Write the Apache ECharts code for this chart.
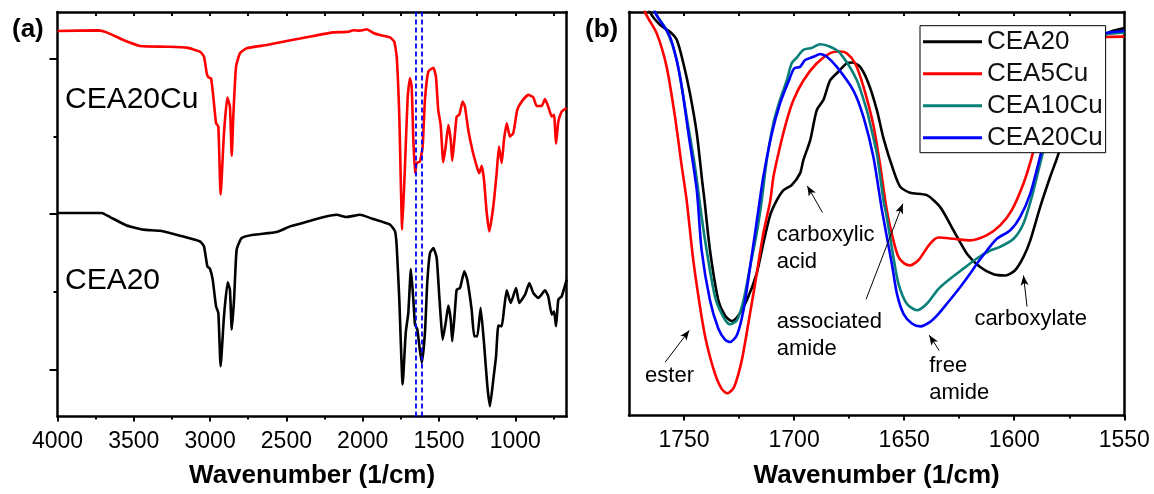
<!DOCTYPE html>
<html>
<head>
<meta charset="utf-8">
<script src="https://cdn.jsdelivr.net/npm/echarts@6/dist/echarts.min.js"></script>
<style>
html,body{margin:0;padding:0;background:#fff;}
#chart{width:1154px;height:494px;}
</style>
</head>
<body>
<div id="chart"></div>
<script>
// ---------- Panel (a): full FTIR spectra (wavenumber, offset transmittance) ----------
const aWnCEA20Cu = [4000,3733,3678,3569,3459,3284,3153,3066,3040,3022,3012,2994,2979,2961,2946,2931,2909,2887,2870,2858,2848,2830,2804,2760,2629,2498,2411,2324,2193,2100,2060,2018,1974,1930,1887,1821,1793,1777,1760,1741,1723,1705,1690,1679,1668,1657,1646,1625,1607,1592,1570,1537,1520,1505,1489,1472,1456,1439,1423,1413,1395,1384,1367,1345,1330,1308,1279,1249,1236,1220,1205,1187,1170,1144,1122,1107,1089,1074,1056,1035,1013,987,958,915,882,860,827,805,784,761,746,733,718,696,663];
const aTCEA20Cu = [2.178,2.182,2.169,2.120,2.082,2.077,2.071,2.045,2.013,1.906,1.881,1.874,1.756,1.585,1.564,1.125,1.521,1.750,1.692,1.377,1.628,1.949,2.035,2.067,2.088,2.114,2.130,2.146,2.169,2.172,2.183,2.180,2.189,2.165,2.152,2.137,2.109,2.013,1.628,0.901,1.307,1.756,1.874,1.820,1.478,1.264,1.329,1.339,1.435,1.735,1.917,1.942,1.884,1.671,1.574,1.335,1.435,1.574,1.478,1.343,1.521,1.628,1.639,1.724,1.692,1.542,1.403,1.297,1.264,1.311,1.221,1.008,0.890,1.050,1.264,1.435,1.329,1.478,1.585,1.499,1.521,1.671,1.724,1.767,1.752,1.696,1.696,1.741,1.692,1.628,1.639,1.453,1.596,1.660,1.682];
const aWnCEA20 = [4000,3710,3656,3547,3438,3328,3197,3066,3040,3018,3001,2983,2961,2946,2931,2909,2885,2870,2858,2843,2826,2793,2717,2564,2476,2411,2280,2170,2105,2018,1931,1821,1788,1777,1760,1738,1718,1701,1684,1668,1657,1642,1613,1592,1577,1559,1537,1515,1498,1489,1476,1456,1439,1423,1413,1395,1384,1362,1334,1315,1286,1269,1249,1227,1205,1183,1166,1144,1126,1111,1089,1074,1056,1030,995,974,936,908,882,849,805,784,761,746,733,718,696,663];
const aTCEA20 = [1.008,1.008,0.982,0.928,0.901,0.894,0.862,0.825,0.793,0.665,0.650,0.580,0.408,0.366,0.023,0.344,0.562,0.515,0.259,0.451,0.772,0.847,0.868,0.886,0.922,0.939,0.976,0.997,0.982,0.997,0.969,0.933,0.890,0.793,0.451,-0.094,0.237,0.366,0.648,0.451,0.291,0.259,0.045,0.237,0.558,0.751,0.783,0.719,0.472,0.344,0.194,0.302,0.413,0.323,0.184,0.387,0.515,0.526,0.633,0.580,0.387,0.216,0.216,0.398,0.173,-0.105,-0.234,-0.062,0.087,0.284,0.280,0.387,0.511,0.430,0.526,0.430,0.483,0.558,0.494,0.462,0.511,0.472,0.355,0.376,0.280,0.451,0.472,0.580];
const aDashedWn = [1655, 1612];
const aLabels = ['CEA20Cu', 'CEA20'];
const aMajorTicks = [1000,1500,2000,2500,3000,3500,4000];
const aMinorTicks = [750,1250,1750,2250,2750,3250,3750];
const aTopTicks = [750,1000,1250,1500,1750,2000,2250,2500,2750,3000,3250,3500,3750];
const aYMajor = [0,1,2];
const aYMinor = [0.5,1.5];

// ---------- Panel (b): 1775-1550 cm-1 zoom ----------
const bNames = ['CEA20','CEA5Cu','CEA10Cu','CEA20Cu'];
const bWnCEA20 = [1775,1765.5,1760.9,1756.4,1753.3,1750.3,1747.3,1744.2,1741.8,1740.7,1738.2,1734.4,1731.4,1728.3,1725.3,1721.5,1717.0,1714.0,1710.9,1707.9,1704.9,1701.1,1697.3,1695.8,1692.7,1689.7,1686.7,1683.6,1679.9,1676.1,1673.6,1670.0,1666.2,1662.4,1659.4,1654.9,1651.8,1647.3,1639.7,1633.7,1627.6,1621.5,1615.5,1609.4,1604.1,1599.6,1595.8,1592.7,1588.2,1583.7,1579.9,1572.3,1565.5,1557.9,1550];
const bTCEA20 = [112,100,96.8,95.1,93.1,87.3,79.8,69.9,58.3,53.3,40.9,28.5,24.8,23.4,24.8,28.5,35.2,42.6,49.6,53.3,55.8,57.1,60.0,63.3,68.2,75.7,78.2,83.1,85.2,87.3,87.5,86.4,82.3,75.7,68.7,60.8,56.7,55.2,54.6,51.7,45.9,40.1,36.8,35.0,34.7,36.0,39.3,43.4,51.7,59.1,64.9,80.6,90.6,94.7,96.0];
const bWnCEA5Cu = [1775,1767.7,1762.4,1757.9,1754.1,1751.0,1748.8,1745.8,1742.0,1739.7,1735.9,1732.9,1730.3,1727.3,1723.8,1720.8,1717.7,1714.0,1710.9,1709.4,1706.4,1703.3,1700.3,1695.7,1689.7,1683.6,1679.1,1676.1,1672.3,1668.5,1664.0,1660.9,1657.9,1654.9,1652.6,1650.0,1647.3,1643.5,1638.2,1634.4,1627.6,1620.0,1612.4,1606.4,1601.1,1595.8,1592.0,1585.9,1576.8,1565.5,1557.9,1550];
const bTCEA5Cu = [115,100,94.7,86.4,74.0,61.6,53.3,38.5,24.4,17.8,10.3,6.6,5.5,7.0,13.6,22.8,32.7,45.1,53.0,59.1,66.6,73.2,78.2,83.1,87.3,89.8,90.2,89.8,87.3,81.5,72.0,62.0,50.9,43.4,39.3,37.7,37.2,38.5,42.6,44.1,43.8,43.4,44.7,47.1,50.9,57.5,64.1,76.9,88.1,92.6,93.8,93.9];
const bWnCEA10Cu = [1775,1763.2,1757.9,1753.3,1748.8,1745.0,1742.0,1739.7,1735.9,1732.1,1729.1,1726.0,1723.0,1720.0,1717.0,1714.7,1712.4,1709.4,1706.4,1703.3,1701.1,1698.8,1695.8,1692.0,1688.2,1683.6,1679.1,1671.5,1667.0,1665.5,1662.4,1659.4,1657.9,1654.9,1652.6,1648.8,1644.2,1639.7,1634.4,1629.1,1623.1,1617.0,1610.9,1606.4,1600.3,1595.8,1592.0,1588.2,1583.7,1576.8,1565.5,1557.9,1550];
const bTCEA10Cu = [120,100,95.5,88.1,74.0,61.6,49.2,40.9,29.4,24.4,22.6,23.6,28.5,36.8,45.1,53.3,63.3,72.5,78.2,83.1,87.3,88.7,90.6,91.1,92.0,91.4,89.8,83.1,75.7,72.4,64.9,53.3,49.2,39.3,32.7,27.7,26.1,27.7,31.4,33.9,36.4,38.9,40.9,41.8,43.8,47.6,54.2,62.5,72.0,84.4,92.6,94.5,94.9];
const bWnCEA20Cu = [1775,1763.2,1756.4,1751.8,1748.0,1744.2,1742.0,1738.2,1734.4,1731.4,1729.1,1726.0,1723.0,1720.0,1717.0,1714.0,1710.1,1706.4,1702.6,1700.0,1697.3,1695.0,1691.2,1688.2,1685.1,1680.6,1673.1,1668.5,1664.0,1660.1,1655.6,1653.3,1650.3,1646.5,1642.7,1638.2,1634.4,1630.6,1624.6,1620.0,1617.0,1612.4,1607.9,1601.8,1597.3,1592.7,1589.0,1584.6,1578.2,1565.5,1557.9,1550];
const bTCEA20Cu = [120,100,93.9,83.9,69.9,55.8,40.9,28.5,21.5,18.8,18.2,19.9,26.1,36.8,48.0,59.1,69.9,77.3,82.7,86.0,86.4,88.1,88.9,89.6,88.9,86.4,80.6,74.0,64.1,50.9,37.6,30.2,25.2,22.8,22.1,23.2,25.2,27.7,31.8,35.2,37.6,40.9,43.8,45.9,49.2,55.0,62.5,72.0,83.1,93.1,94.8,95.3];
const bMajorTicks = [1550,1600,1650,1700,1750];
const bMinorTicks = [1575,1625,1675,1725];
const bTopTicks = [1575,1600,1625,1650,1675,1700,1725,1750];
// annotations: text, anchor [wn, value]
const bAnnoText = ['carboxylic\nacid','associated\namide','ester','free\namide','carboxylate'];
const bAnnoPos = [[1707.9,41.4],[1707.9,19.9],[1767.7,9.9],[1638.6,8.9],[1618.1,24.0]];
// arrows: tail -> head [wn, value]
const bArrowTail = [[1758.6,13.2],[1687.1,50.3],[1667.3,28.8],[1634.1,16.1],[1594.2,27.0]];
const bArrowHead = [[1747.6,21.1],[1694.0,56.9],[1650.6,52.5],[1638.6,19.9],[1595.8,34.7]];

const FONT = "'Liberation Sans', Arial, sans-serif";
const zip = (xs, ys) => xs.map((x, i) => [x, ys[i]]);

const chart = echarts.init(document.getElementById('chart'), null, {renderer: 'canvas'});

const axisLineStyle = {color: '#000', width: 2.5};
const tickStyle = {color: '#000', width: 2};

function xAxesFor(gi, min, max, major, minor, top, gap) {
  return [
    {gridIndex: gi, type: 'value', min: min, max: max, inverse: true, position: 'bottom',
     axisLine: {show: true, onZero: false, lineStyle: axisLineStyle},
     axisTick: {show: true, inside: false, length: 5, lineStyle: tickStyle, customValues: major},
     axisLabel: {show: true, customValues: major, formatter: v => String(v), fontSize: 23, fontFamily: FONT, color: '#000', margin: 14, showMinLabel: true, showMaxLabel: true},
     splitLine: {show: false},
     name: 'Wavenumber (1/cm)', nameLocation: 'middle', nameGap: gap,
     nameTextStyle: {fontSize: 26, fontWeight: 'bold', fontFamily: FONT, color: '#000'}},
    {gridIndex: gi, type: 'value', min: min, max: max, inverse: true, position: 'bottom',
     axisLine: {show: false, onZero: false},
     axisTick: {show: true, inside: false, length: 3, lineStyle: tickStyle, customValues: minor},
     axisLabel: {show: false}, splitLine: {show: false}},
    {gridIndex: gi, type: 'value', min: min, max: max, inverse: true, position: 'top',
     axisLine: {show: true, onZero: false, lineStyle: axisLineStyle},
     axisTick: {show: true, inside: true, length: 4, lineStyle: tickStyle, customValues: top},
     axisLabel: {show: false}, splitLine: {show: false}}
  ];
}

const option = {
  animation: false,
  backgroundColor: '#fff',
  grid: [
    {left: 57.5, top: 12, width: 509.2, height: 404.5},
    {left: 629, top: 12, width: 495.3, height: 403.5}
  ],
  xAxis: [].concat(
    xAxesFor(0, 663, 4000, aMajorTicks, aMinorTicks, aTopTicks, 46),
    xAxesFor(1, 1550, 1775, bMajorTicks, bMinorTicks, bTopTicks, 47)
  ),
  yAxis: [
    {gridIndex: 0, type: 'value', min: -0.3, max: 2.3, position: 'left',
     axisLine: {show: true, onZero: false, lineStyle: axisLineStyle},
     axisTick: {show: true, inside: false, length: 8, lineStyle: tickStyle, customValues: aYMajor},
     axisLabel: {show: false}, splitLine: {show: false}},
    {gridIndex: 0, type: 'value', min: -0.3, max: 2.3, position: 'left',
     axisLine: {show: false, onZero: false},
     axisTick: {show: true, inside: false, length: 4, lineStyle: tickStyle, customValues: aYMinor},
     axisLabel: {show: false}, splitLine: {show: false}},
    {gridIndex: 0, type: 'value', min: -0.3, max: 2.3, position: 'right',
     axisLine: {show: true, onZero: false, lineStyle: axisLineStyle},
     axisTick: {show: false}, axisLabel: {show: false}, splitLine: {show: false}},
    {gridIndex: 1, type: 'value', min: 0, max: 100, position: 'left',
     axisLine: {show: true, onZero: false, lineStyle: axisLineStyle},
     axisTick: {show: false}, axisLabel: {show: false}, splitLine: {show: false}},
    {gridIndex: 1, type: 'value', min: 0, max: 100, position: 'right',
     axisLine: {show: true, onZero: false, lineStyle: axisLineStyle},
     axisTick: {show: false}, axisLabel: {show: false}, splitLine: {show: false}}
  ],
  legend: {
    data: bNames,
    orient: 'vertical',
    left: 920, top: 25.7,
    padding: [3, 3, 2, 3],
    itemGap: 6,
    itemWidth: 59, itemHeight: 3,
    icon: 'rect',
    backgroundColor: '#fff',
    borderColor: '#000', borderWidth: 1,
    textStyle: {fontSize: 26, fontFamily: FONT, color: '#111', lineHeight: 26},
    selectedMode: false,
    z: 20
  },
  graphic: [
    {type: 'text', x: 12, y: 30, z: 10, style: {text: '(a)', font: 'bold 26px ' + FONT, fill: '#000', align: 'left', verticalAlign: 'middle'}},
    {type: 'text', x: 585, y: 30, z: 10, style: {text: '(b)', font: 'bold 26px ' + FONT, fill: '#000', align: 'left', verticalAlign: 'middle'}},
    {type: 'text', x: 65, y: 100, z: 10, style: {text: aLabels[0], font: '30px ' + FONT, fill: '#000', align: 'left', verticalAlign: 'middle'}},
    {type: 'text', x: 65, y: 281, z: 10, style: {text: aLabels[1], font: '30px ' + FONT, fill: '#000', align: 'left', verticalAlign: 'middle'}}
  ],
  series: [
    {name: 'a-CEA20Cu', type: 'line', xAxisIndex: 0, yAxisIndex: 0, data: zip(aWnCEA20Cu, aTCEA20Cu), smooth: 0.15,
     showSymbol: false, symbol: 'none', lineStyle: {color: '#ff0000', width: 2.6}, itemStyle: {color: '#ff0000'}, silent: true},
    {name: 'a-CEA20', type: 'line', xAxisIndex: 0, yAxisIndex: 0, data: zip(aWnCEA20, aTCEA20), smooth: 0.15,
     showSymbol: false, symbol: 'none', lineStyle: {color: '#000', width: 2.6}, itemStyle: {color: '#000'}, silent: true,
     markLine: {silent: true, symbol: ['none', 'none'], label: {show: false},
       lineStyle: {color: '#0000ff', width: 1.8, type: [5, 3]},
       emphasis: {disabled: true},
       data: aDashedWn.map(w => ({xAxis: w}))}},
    {name: bNames[0], type: 'line', xAxisIndex: 3, yAxisIndex: 3, data: zip(bWnCEA20, bTCEA20), smooth: 0.25,
     showSymbol: false, symbol: 'none', lineStyle: {color: '#000', width: 2.6}, itemStyle: {color: '#000'}, silent: true,
     markLine: {silent: true, symbol: ['none', 'arrow'], symbolSize: [6, 10], label: {show: false},
       lineStyle: {color: '#000', width: 1, type: 'solid'}, emphasis: {disabled: true},
       data: bArrowTail.map((t, i) => [{coord: t}, {coord: bArrowHead[i]}])},
     markPoint: {silent: true, symbol: 'circle', symbolSize: 0,
       label: {show: true, position: 'right', distance: 0, formatter: p => p.name, fontSize: 22, fontFamily: FONT, color: '#000', lineHeight: 26.7},
       data: bAnnoText.map((t, i) => ({name: t, coord: bAnnoPos[i]}))}},
    {name: bNames[1], type: 'line', xAxisIndex: 3, yAxisIndex: 3, data: zip(bWnCEA5Cu, bTCEA5Cu), smooth: 0.25,
     showSymbol: false, symbol: 'none', lineStyle: {color: '#ff0000', width: 2.6}, itemStyle: {color: '#ff0000'}, silent: true},
    {name: bNames[2], type: 'line', xAxisIndex: 3, yAxisIndex: 3, data: zip(bWnCEA10Cu, bTCEA10Cu), smooth: 0.25,
     showSymbol: false, symbol: 'none', lineStyle: {color: '#0a8078', width: 2.6}, itemStyle: {color: '#0a8078'}, silent: true},
    {name: bNames[3], type: 'line', xAxisIndex: 3, yAxisIndex: 3, data: zip(bWnCEA20Cu, bTCEA20Cu), smooth: 0.25,
     showSymbol: false, symbol: 'none', lineStyle: {color: '#0000ff', width: 2.6}, itemStyle: {color: '#0000ff'}, silent: true}
  ]
};
chart.setOption(option);
</script>
</body>
</html>
